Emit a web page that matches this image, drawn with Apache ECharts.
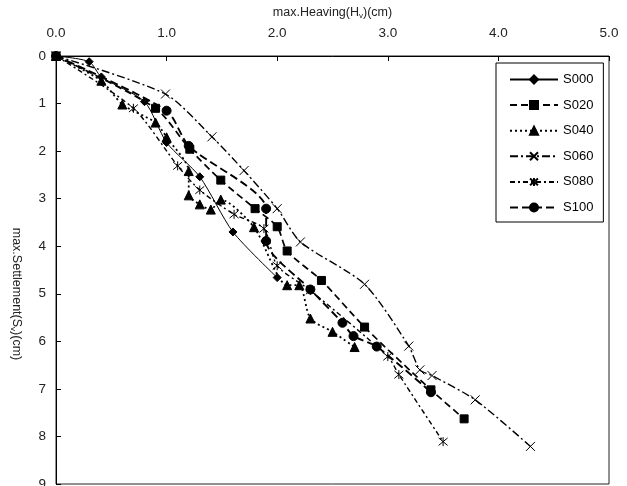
<!DOCTYPE html>
<html>
<head>
<meta charset="utf-8">
<script src="https://cdn.jsdelivr.net/npm/echarts@6/dist/echarts.min.js"></script>
<style>
html,body{margin:0;padding:0;background:#fff;}
#c{width:627px;height:486px;}
</style>
</head>
<body>
<div id="c"></div>
<script>
// Data: [heaving (cm), settlement (cm)]
var seriesNames = ['S000','S020','S040','S060','S080','S100'];
var xTicks = [0,1,2,3,4,5];
var yTicks = [0,1,2,3,4,5,6,7,8,9];

var s000 = [[0,0],[0.30,0.12],[0.41,0.44],[0.80,0.96],[1.00,1.82],[1.30,2.54],[1.60,3.70],[2.00,4.66]];
var s020 = [[0,0],[0.90,1.10],[1.21,1.96],[1.49,2.61],[1.80,3.21],[2.00,3.59],[2.09,4.10],[2.40,4.72],[2.79,5.70],[3.39,7.02],[3.69,7.63]];
var s040 = [[0,0],[0.41,0.52],[0.60,1.02],[0.90,1.40],[1.00,1.71],[1.20,2.42],[1.20,2.93],[1.30,3.12],[1.40,3.23],[1.49,3.02],[1.79,3.60],[2.09,4.82],[2.20,4.82],[2.30,5.52],[2.50,5.80],[2.70,6.12]];
var s060 = [[0,0],[0.99,0.80],[1.41,1.70],[1.70,2.41],[2.00,3.21],[2.21,3.91],[2.79,4.80],[3.19,6.10],[3.29,6.60],[3.40,6.72],[3.79,7.23],[4.29,8.21]];
var s080 = [[0,0],[0.70,1.10],[1.10,2.31],[1.30,2.82],[1.61,3.33],[1.88,3.63],[2.00,4.41],[2.30,4.93],[3.00,6.32],[3.10,6.70],[3.50,8.11]];
var s100 = [[0,0],[1.00,1.15],[1.20,1.89],[1.90,3.21],[1.90,3.89],[2.30,4.91],[2.59,5.61],[2.69,5.89],[2.90,6.11],[3.39,7.07]];

var dataList = [s000,s020,s040,s060,s080,s100];

var crossPath = 'path://M0,0L10,10M10,0L0,10';
var starPath = 'path://M0,0L10,10M10,0L0,10M5,-1L5,11';

var styles = [
  {symbol:'diamond', size:8, type:'solid', width:1},
  {symbol:'rect', size:8, type:[7,4], width:1.7},
  {symbol:'triangle', size:9, type:[2,3], width:1.8},
  {symbol:crossPath, size:9, type:[8,3,2,3], width:1.4},
  {symbol:starPath, size:9, type:[5,3,2,3], width:1.4},
  {symbol:'circle', size:9, type:[8,4], width:1.9}
];

var font = "'Liberation Sans', Arial, sans-serif";

var series = seriesNames.map(function(n,i){
  var st = styles[i];
  return {
    name:n, type:'line', data:dataList[i],
    symbol: st.symbol, symbolSize: st.size, smooth:0.25,
    showAllSymbol:true,
    lineStyle:{color:'#000', width:st.width, type:st.type},
    itemStyle:{color:'#000', borderColor:'#000', borderWidth:1},
    z: i===1 ? 5 : 2,
    emphasis:{disabled:true},
    animation:false
  };
});

var chart = echarts.init(document.getElementById('c'), null, {renderer:'canvas'});
chart.setOption({
  animation:false,
  backgroundColor:'#fff',
  grid:{left:56, right:18, top:56, bottom:2, outerBoundsMode:'none', containLabel:false, show:true, borderColor:'#222', borderWidth:1, backgroundColor:'transparent'},
  legend:{
    orient:'vertical', left:496, top:63,
    padding:[10,10,8,13], itemWidth:48, itemHeight:10, itemGap:12.6,
    backgroundColor:'#fff', borderColor:'#000', borderWidth:1, borderRadius:0,
    textStyle:{color:'#000', fontSize:13, fontFamily:font},
    data: seriesNames
  },
  xAxis:{
    type:'value', position:'top', min:0, max:5, interval:1,
    name:'{n|max.Heaving(H}{s|v}{n|)(cm)}', nameLocation:'middle', nameGap:36,
    nameTextStyle:{rich:{n:{fontSize:12.5, color:'#222', fontFamily:font}, s:{fontSize:8, color:'#222', fontFamily:font, padding:[6,0,0,0]}}},
    axisLine:{show:true, lineStyle:{color:'#000', width:1}},
    axisTick:{show:true, inside:true, length:5, lineStyle:{color:'#000'}},
    axisLabel:{margin:16, color:'#222', fontSize:13.5, fontFamily:font, formatter:function(v){return v.toFixed(1);}},
    splitLine:{show:false}
  },
  yAxis:{
    type:'value', inverse:true, min:0, max:9, interval:1,
    name:'{n|max.Settlement(S}{s|v}{n|)(cm)}', nameLocation:'middle', nameGap:33, nameRotate:-90,
    nameTextStyle:{padding:[0,0,0,48], rich:{n:{fontSize:12.5, color:'#222', fontFamily:font}, s:{fontSize:8, color:'#222', fontFamily:font, padding:[6,0,0,0]}}},
    axisLine:{show:true, lineStyle:{color:'#000', width:1}},
    axisTick:{show:true, inside:true, length:5, lineStyle:{color:'#000'}},
    axisLabel:{margin:10, color:'#222', fontSize:13.5, fontFamily:font},
    splitLine:{show:false}
  },
  series: series
});
</script>
</body>
</html>
